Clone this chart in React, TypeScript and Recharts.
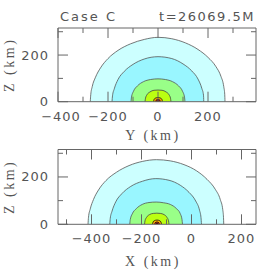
import React from 'react';
import { ComposedChart, Area, XAxis, YAxis } from 'recharts';

// ---------- data ----------
const titleLeft = 'Case C';
const titleRight = 't=26069.5M';

const topXTicks = [-400, -300, -200, -100, 0, 100, 200, 300];
const topXLabels = [-400, -200, 0, 200];
const botXTicks = [-500, -400, -300, -200, -100, 0, 100, 200];
const botXLabels = [-400, -200, 0, 200];
const zTicks = [0, 100, 200, 300];
const zLabels = [0, 200];

const levelFills = ['#ccffff', '#99f6ff', '#99ff88', '#bbff11', '#ffaa00', '#ee2200', '#770000'];
const levelStrokes = ['#555555', '#555555', '#555555', '#444444', '#111111', '#111111', '#111111'];

// Top panel (Y-Z plane) contours: [Y km, Z km]
const topC1 = [[-271,0],[-269,30],[-263,65],[-250,105],[-230,145],[-200,185],[-160,220],[-110,248],[-55,267],[0,276],[55,270],[110,252],[160,224],[200,190],[232,150],[252,108],[263,65],[267,30],[268,0]];
const topC2 = [[-184,0],[-182,25],[-175,55],[-160,95],[-135,130],[-100,160],[-55,183],[0,193],[55,185],[100,162],[135,132],[160,97],[175,58],[182,28],[183,0]];
const topC3 = [[-108,0],[-106,20],[-98,45],[-82,68],[-58,86],[-30,95],[0,98],[30,95],[58,86],[82,68],[98,45],[106,20],[108,0]];
const topC4 = [[-52,0],[-50,15],[-44,30],[-32,42],[-16,49],[0,50],[16,49],[32,42],[44,30],[50,15],[52,0]];
const topC5 = [[-18,0],[-16,9],[-11,15],[0,18],[11,15],[16,9],[18,0]];
const topC6 = [[-10,0],[-8,6],[0,10],[8,6],[10,0]];
const topC7 = [[-5,0],[-3,4],[0,5],[3,4],[5,0]];

// Bottom panel (X-Z plane) contours: [X km, Z km]
const botC1 = [[-414,0],[-412,30],[-405,65],[-392,105],[-372,145],[-342,185],[-300,220],[-250,248],[-195,266],[-140,273],[-85,268],[-30,252],[20,226],[62,190],[95,148],[115,105],[125,62],[128,28],[129,0]];
const botC2 = [[-327,0],[-325,25],[-318,55],[-303,95],[-278,130],[-243,160],[-196,182],[-143,193],[-90,186],[-45,165],[-10,135],[17,98],[32,60],[38,28],[40,0]];
const botC3 = [[-247,0],[-245,20],[-237,44],[-221,66],[-197,84],[-170,92],[-141,94],[-112,91],[-85,84],[-61,67],[-45,45],[-38,20],[-36,0]];
const botC4 = [[-188,0],[-186,15],[-180,29],[-168,41],[-153,46],[-139,47],[-125,46],[-110,41],[-98,29],[-92,15],[-90,0]];
const botC5 = [[-156,0],[-154,9],[-149,15],[-138,18],[-127,15],[-122,9],[-120,0]];
const botC6 = [[-148,0],[-146,6],[-138,10],[-130,6],[-128,0]];
const botC7 = [[-143,0],[-141,4],[-138,5],[-135,4],[-133,0]];

const topContours = [topC1, topC2, topC3, topC4, topC5, topC6, topC7];
const botContours = [botC1, botC2, botC3, botC4, botC5, botC6, botC7];

// ---------- styling ----------
const AXIS = '#666666';
const TEXT = '#555555';
const NUMFONT = "'DejaVu Sans', sans-serif";
const LABFONT = "'Liberation Serif', serif";
const PLOT_LEFT = 58;

const fmt = (v: number) => (v < 0 ? '\u2212' + Math.abs(v) : String(v));

function makeXTick(labels: number[], side: 'bottom' | 'top') {
  return (props: any) => {
    const { x, y, payload } = props;
    const v = payload.value;
    const major = labels.includes(v);
    const len = major ? 10 : 5;
    const dir = side === 'bottom' ? -1 : 1;
    const nearLeft = x < PLOT_LEFT + 4;
    return (
      <g>
        <line x1={x} x2={x} y1={y} y2={y + dir * len} stroke={AXIS} strokeWidth={1} />
        {side === 'bottom' && major ? (
          <text
            x={nearLeft ? x + 3 : x}
            y={y + 19}
            textAnchor="middle"
            fontFamily={NUMFONT}
            fontSize={13}
            letterSpacing={1}
            fill={TEXT}
          >
            {fmt(v)}
          </text>
        ) : null}
      </g>
    );
  };
}

function makeYTick(labels: number[], side: 'left' | 'right') {
  return (props: any) => {
    const { x, y, payload } = props;
    const v = payload.value;
    const major = labels.includes(v);
    const len = major ? 10 : 5;
    const dir = side === 'left' ? 1 : -1;
    return (
      <g>
        <line x1={x} x2={x + dir * len} y1={y} y2={y} stroke={AXIS} strokeWidth={1} />
        {side === 'left' && major ? (
          <text
            x={x - 9}
            y={y + 4.5}
            textAnchor="end"
            fontFamily={NUMFONT}
            fontSize={13}
            letterSpacing={1}
            fill={TEXT}
          >
            {fmt(v)}
          </text>
        ) : null}
      </g>
    );
  };
}

const toRows = (pts: number[][]) => pts.map(([x, z]) => ({ x, z }));

interface PanelProps {
  contours: number[][][];
  xDomain: [number, number];
  xTicks: number[];
  xLabels: number[];
  xTitle: string;
  height: number;
  margin: { top: number; right: number; bottom: number; left: number };
  xTitleOffset: number;
}

function Panel({ contours, xDomain, xTicks, xLabels, xTitle, height, margin, xTitleOffset }: PanelProps) {
  return (
    <ComposedChart width={270} height={height} margin={margin}>
      {contours.map((c, i) => (
        <Area
          key={i}
          xAxisId="b"
          yAxisId="l"
          data={toRows(c)}
          dataKey="z"
          type="monotone"
          fill={levelFills[i]}
          fillOpacity={1}
          stroke={levelStrokes[i]}
          strokeWidth={0.8}
          dot={false}
          activeDot={false}
          isAnimationActive={false}
        />
      ))}
      <XAxis
        xAxisId="b"
        type="number"
        dataKey="x"
        orientation="bottom"
        domain={xDomain}
        allowDataOverflow
        ticks={xTicks}
        interval={0}
        height={1}
        tickSize={0}
        tickMargin={0}
        tickLine={false}
        axisLine={{ stroke: AXIS, strokeWidth: 1 }}
        tick={makeXTick(xLabels, 'bottom')}
        label={{
          value: xTitle,
          position: 'bottom',
          offset: xTitleOffset,
          fill: TEXT,
          fontFamily: LABFONT,
          fontSize: 14,
          letterSpacing: 2.5,
          dx: -4,
        }}
      />
      <XAxis
        xAxisId="t"
        type="number"
        dataKey="x"
        orientation="top"
        domain={xDomain}
        allowDataOverflow
        ticks={xTicks}
        interval={0}
        height={1}
        tickSize={0}
        tickMargin={0}
        tickLine={false}
        axisLine={{ stroke: AXIS, strokeWidth: 1 }}
        tick={makeXTick(xLabels, 'top')}
      />
      <YAxis
        yAxisId="l"
        type="number"
        orientation="left"
        domain={[0, 316]}
        allowDataOverflow
        ticks={zTicks}
        interval={0}
        width={1}
        tickSize={0}
        tickMargin={0}
        tickLine={false}
        axisLine={{ stroke: AXIS, strokeWidth: 1 }}
        tick={makeYTick(zLabels, 'left')}
        label={{
          value: 'Z (km)',
          angle: -90,
          position: 'left',
          offset: 48,
          fill: TEXT,
          fontFamily: LABFONT,
          fontSize: 14,
          letterSpacing: 2.5,
          style: { textAnchor: 'middle' },
        }}
      />
      <YAxis
        yAxisId="r"
        type="number"
        orientation="right"
        domain={[0, 316]}
        allowDataOverflow
        ticks={zTicks}
        interval={0}
        width={1}
        tickSize={0}
        tickMargin={0}
        tickLine={false}
        axisLine={{ stroke: AXIS, strokeWidth: 1 }}
        tick={makeYTick(zLabels, 'right')}
      />
    </ComposedChart>
  );
}

export default function App() {
  return (
    <div style={{ position: 'absolute', left: 0, top: 0, width: 270, height: 270, background: '#fff', overflow: 'hidden' }}>
      <div style={{ position: 'absolute', left: 0, top: 0 }}>
        <Panel
          contours={topContours}
          xDomain={[-400, 392]}
          xTicks={topXTicks}
          xLabels={topXLabels}
          xTitle="Y (km)"
          height={148}
          margin={{ top: 27, right: 13, bottom: 45.3, left: 57 }}
          xTitleOffset={27}
        />
      </div>
      <div style={{ position: 'absolute', left: 0, top: 135 }}>
        <Panel
          contours={botContours}
          xDomain={[-534, 258]}
          xTicks={botXTicks}
          xLabels={botXLabels}
          xTitle="X (km)"
          height={135}
          margin={{ top: 13.5, right: 13, bottom: 44.7, left: 57 }}
          xTitleOffset={30.5}
        />
      </div>
      <svg
        width={270}
        height={30}
        style={{ position: 'absolute', left: 0, top: 0, pointerEvents: 'none' }}
      >
        <text x={60} y={21} fontFamily={NUMFONT} fontSize={13} letterSpacing={2} fill={TEXT}>
          {titleLeft}
        </text>
        <text x={255} y={21} textAnchor="end" fontFamily={NUMFONT} fontSize={13} letterSpacing={1.5} fill={TEXT}>
          {titleRight}
        </text>
      </svg>
    </div>
  );
}
